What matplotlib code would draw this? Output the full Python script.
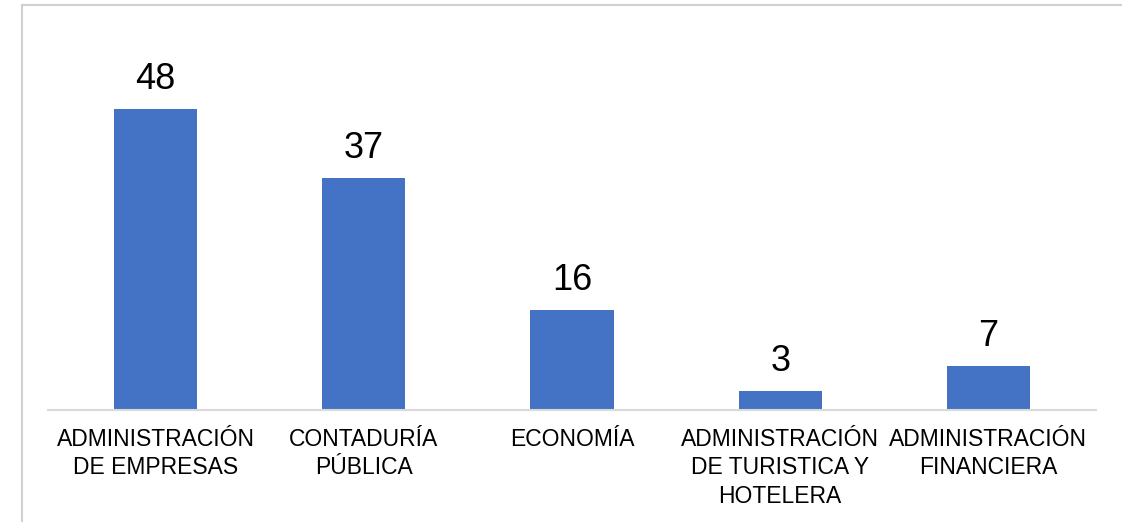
import matplotlib
matplotlib.use("Agg")
import matplotlib.pyplot as plt
from matplotlib.lines import Line2D

categories = ["ADMINISTRACIÓN\nDE EMPRESAS", "CONTADURÍA\nPÚBLICA", "ECONOMÍA",
              "ADMINISTRACIÓN\nDE TURISTICA Y\nHOTELERA", "ADMINISTRACIÓN\nFINANCIERA"]
values = [48, 37, 16, 3, 7]

plt.rcParams['font.family'] = ['Liberation Sans', 'DejaVu Sans']

W, H = 1122, 522
fig = plt.figure(figsize=(W / 100, H / 100), dpi=100)
ax_l, ax_r, ax_b, ax_t = 48, 1096, 410, 34
ax = fig.add_axes([ax_l / W, 1 - ax_b / H, (ax_r - ax_l) / W, (ax_b - ax_t) / H])

x = list(range(len(values)))
bars = ax.bar(x, values, width=0.4, color="#4472C4", zorder=2)
ax.set_xlim(-0.517, len(values) - 1 + 0.517)
ax.set_ylim(0, 60)

for b, v in zip(bars, values):
    ax.annotate(str(v), (b.get_x() + b.get_width() / 2, v), xytext=(0, 8.5),
                textcoords="offset points", ha="center", va="bottom", fontsize=26)

ax.set_xticks(x)
ax.set_xticklabels(categories, fontsize=16.5, linespacing=1.3)
ax.tick_params(axis="x", length=0, pad=13)
ax.set_yticks([])
for s in ["top", "right", "left"]:
    ax.spines[s].set_visible(False)
ax.spines["bottom"].set_color("#d9d9d9")
ax.spines["bottom"].set_linewidth(1.5)

# outer chart frame (partially visible)
fig.add_artist(Line2D([22 / W, 22 / W], [0, 1 - 5 / H], transform=fig.transFigure,
                      color="#d0d0d0", lw=1.5))
fig.add_artist(Line2D([22 / W, 1], [1 - 5 / H, 1 - 5 / H], transform=fig.transFigure,
                      color="#d0d0d0", lw=1.5))

fig.savefig("out.png", dpi=100, facecolor="white")
